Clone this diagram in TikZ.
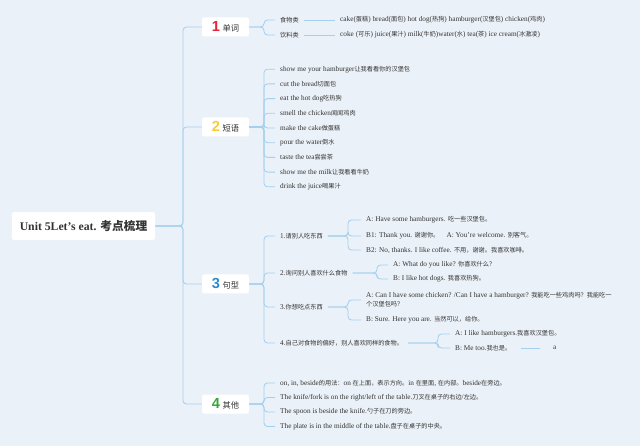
\documentclass[tikz,border=0pt]{standalone}
\usepackage{fontspec}
\setmainfont{Liberation Serif}
\newfontfamily\cjk[Scale=0.85]{Noto Sans CJK SC}
\newfontfamily\cjkroot{Noto Sans CJK SC}
\newfontfamily\numfont{Liberation Sans}
\usetikzlibrary{positioning,calc}
% Chinese runs switch to the CJK family by themselves
\XeTeXinterchartokenstate=1
\newXeTeXintercharclass\zhclass
\newcount\zhcode
\zhcode=0
\loop\XeTeXcharclass\zhcode=0 \advance\zhcode by 1 \ifnum\zhcode<"3000 \repeat
\zhcode="3000
\loop\XeTeXcharclass\zhcode=\zhclass\advance\zhcode by 1 \ifnum\zhcode<"A000 \repeat
\zhcode="FF00
\loop\XeTeXcharclass\zhcode=\zhclass\advance\zhcode by 1 \ifnum\zhcode<"FFF0 \repeat
\XeTeXinterchartoks 0 \zhclass = {\cjk}
\XeTeXinterchartoks 4095 \zhclass = {\cjk}
\XeTeXinterchartoks \zhclass 0 = {\rmfamily}
\XeTeXinterchartoks \zhclass 4095 = {\rmfamily}
\definecolor{paper}{HTML}{EBF1F8}
\definecolor{wire}{HTML}{A4D0EE}
\definecolor{ink}{HTML}{333333}
\definecolor{one}{HTML}{E3263B}
\definecolor{two}{HTML}{F6CE36}
\definecolor{three}{HTML}{2A8AD2}
\definecolor{four}{HTML}{3AA53A}
\newcommand\topicmark[3]{{\numfont\bfseries\fontsize{12.5}{12}\selectfont\color{#1}#2}\hspace{2.2pt}#3}

\begin{document}
\begin{tikzpicture}[x=0.3mm, y=-0.3mm,
  wire/.style={draw=wire, line width=0.7pt, rounded corners=3pt},
  topic/.style={fill=white, rounded corners=2pt, minimum width=14.1mm,
                minimum height=5.7mm, inner sep=0pt, text=ink,
                font=\fontsize{8.3}{10}\selectfont},
  leaf/.style={anchor=west, inner xsep=1.5mm, inner ysep=1pt, text=ink,
               font=\fontsize{6.2}{7.6}\selectfont}]
  \fill[paper] (0,0) rectangle (640,446);
  \useasboundingbox (0,0) rectangle (640,446);
  \coordinate (trunk) at (183,0);
  \coordinate (fork) at (264,0);

  \node[fill=white, rounded corners=2pt, minimum width=43mm, minimum height=8.4mm,
        text=ink, font=\bfseries\fontsize{10}{12}\selectfont] (root) at (83.5,226)
    {\let\cjk\cjkroot Unit 5Let's eat. 考点梳理};

  \node[topic] (words) at (225.5,27) {\topicmark{one}{1}{单词}};
  \node[topic] (phrases) at (225.5,127) {\topicmark{two}{2}{短语}};
  \node[topic] (drills) at (225.5,284) {\topicmark{three}{3}{句型}};
  \node[topic] (others) at (225.5,404) {\topicmark{four}{4}{其他}};
  \foreach \b in {words,phrases,drills,others}
    \draw[wire] (root.east) -- (root.east -| trunk) |- (\b.west);

  % words
  \node[leaf] (food) at (275,20) {食物类};
  \node[leaf] (drink) at (275,35) {饮料类};
  \node[leaf] (foodlist) at (335,20) {cake(蛋糕) bread(面包) hot dog(热狗) hamburger(汉堡包) chicken(鸡肉)};
  \node[leaf] (drinklist) at (335,35) {coke (可乐) juice(果汁) milk(牛奶)water(水) tea(茶) ice cream(冰激凌)};
  \foreach \c in {food,drink}
    \draw[wire] (words.east) -- (words.east -| fork) |- (\c.west);
  \draw[wire] (food) -- (foodlist);
  \draw[wire] (drink) -- (drinklist);

  % phrases
  \foreach \t [count=\i] in {show me your hamburger让我看看你的汉堡包,cut the bread切面包,
      eat the hot dog吃热狗,smell the chicken闻闻鸡肉,make the cake做蛋糕,pour the water倒水,
      taste the tea尝尝茶,show me the milk让我看看牛奶,drink the juice喝果汁} {
    \node[leaf] (ph\i) at (275,54.5+14.7*\i) {\t};
    \draw[wire] (phrases.east) -- (phrases.east -| fork) |- (ph\i.west);
  }

  % drills
  \node[leaf] (ask1) at (275,236) {1.请别人吃东西};
  \node[leaf] (ask2) at (275,273) {2.询问别人喜欢什么食物};
  \node[leaf] (ask3) at (275,307) {3.你想吃点东西};
  \node[leaf] (ask4) at (275,343) {4.自己对食物的偏好，别人喜欢同样的食物。};
  \foreach \c in {ask1,ask2,ask3,ask4}
    \draw[wire] (drills.east) -- (drills.east -| fork) |- (\c.west);
  \coordinate (fork1) at (348,0);
  \coordinate (fork2) at (377,0);
  \coordinate (fork4) at (438,0);

  \node[leaf] (a11) at (361,220) {A: Have some hamburgers. 吃一些汉堡包。};
  \node[leaf] (a12) at (361,236) {B1: Thank you. 谢谢你。\quad A: You're welcome. 别客气。};
  \node[leaf] (a13) at (361,250) {B2: No, thanks. I like coffee. 不用，谢谢。我喜欢咖啡。};
  \foreach \c in {a11,a12,a13}
    \draw[wire] (ask1.east) -- (ask1.east -| fork1) |- (\c.west);

  \node[leaf] (a21) at (388,265) {A: What do you like? 你喜欢什么？};
  \node[leaf] (a22) at (388,279) {B: I like hot dogs. 我喜欢热狗。};
  \foreach \c in {a21,a22}
    \draw[wire] (ask2.east) -- (ask2.east -| fork2) |- (\c.west);

  \node[leaf, align=left] (a31) at (361,300)
    {A: Can I have some chicken? /Can I have a hamburger? 我能吃一些鸡肉吗？我能吃一\\个汉堡包吗？};
  \node[leaf] (a32) at (361,320) {B: Sure. Here you are. 当然可以，给你。};
  \foreach \c in {a31,a32}
    \draw[wire] (ask3.east) -- (ask3.east -| fork1) |- (\c.west);

  \node[leaf] (a41) at (450,334) {A: I like hamburgers.我喜欢汉堡包。};
  \node[leaf] (a42) at (450,348) {B: Me too.我也是。};
  \foreach \c in {a41,a42}
    \draw[wire] (ask4.east) -- (ask4.east -| fork4) |- (\c.west);
  \node[leaf] (stray) at (548,348) {a};
  \draw[wire] ([xshift=1.5mm]a42.east) -- ([xshift=-2.4mm]stray.west);

  % others
  \foreach \t [count=\i] in {{on, in, beside的用法：on 在上面，表示方向。in 在里面, 在内部。beside在旁边。},
      The knife/fork is on the right/left of the table.刀叉在桌子的右边/左边。,
      The spoon is beside the knife.勺子在刀的旁边。,
      The plate is in the middle of the table.盘子在桌子的中央。} {
    \node[leaf] (use\i) at (275,368.5+14.5*\i) {\t};
    \draw[wire] (others.east) -- (others.east -| fork) |- (use\i.west);
  }
\end{tikzpicture}
\end{document}
